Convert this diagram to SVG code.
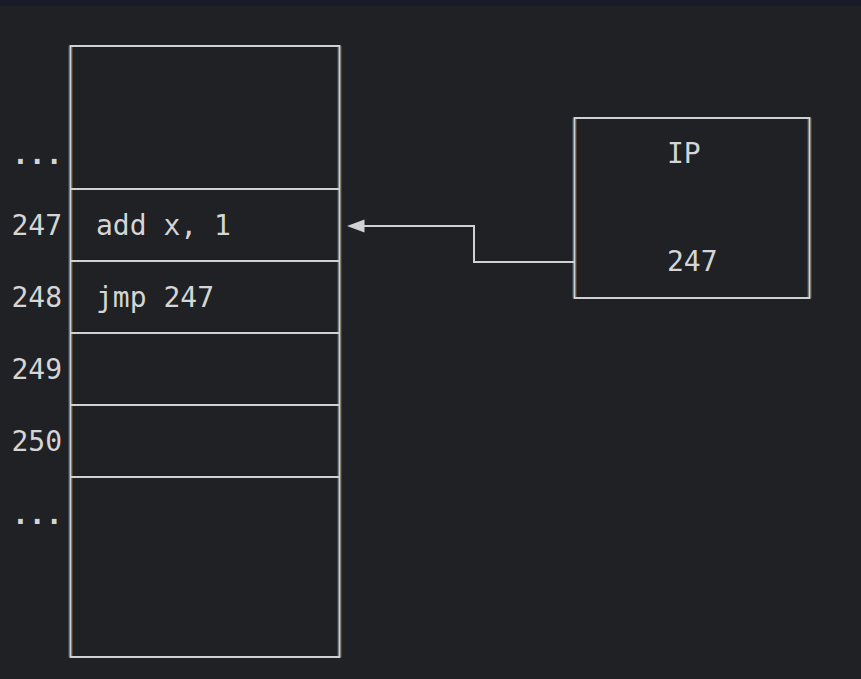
<svg xmlns="http://www.w3.org/2000/svg" width="861" height="679" viewBox="0 0 861 679">
  <style>
    .bg { fill: #202124; }
    .bar { fill: #181a27; }
    .box { fill: none; stroke: #cfd2d4; stroke-width: 2; }
    .rule { stroke: #cfd2d4; stroke-width: 2; fill: none; }
    .edgeL { stroke: #6f9fc4; stroke-width: 1; opacity: 0.55; }
    .edgeR { stroke: #c08a3c; stroke-width: 1; opacity: 0.6; }
    .t { font-family: "DejaVu Sans Mono", "Liberation Mono", monospace; font-size: 28px; fill: #d3d5d6; }
    .wire { fill: none; stroke: #cfd2d4; stroke-width: 2; }
    .head { fill: #cfd2d4; }
  </style>

  <rect class="bg" x="0" y="0" width="861" height="679"/>
  <rect class="bar" x="0" y="0" width="861" height="6"/>

  <!-- memory column -->
  <g id="memory">
    <rect class="box" x="70.5" y="46" width="269" height="611"/>
    <line class="edgeL" x1="69" y1="46" x2="69" y2="657"/>
    <line class="edgeR" x1="72" y1="47" x2="72" y2="656"/>
    <line class="edgeL" x1="338" y1="47" x2="338" y2="656"/>
    <line class="edgeR" x1="341" y1="46" x2="341" y2="657"/>
    <line class="rule" x1="71" y1="189" x2="339" y2="189"/>
    <line class="rule" x1="71" y1="261" x2="339" y2="261"/>
    <line class="rule" x1="71" y1="333" x2="339" y2="333"/>
    <line class="rule" x1="71" y1="405" x2="339" y2="405"/>
    <line class="rule" x1="71" y1="477" x2="339" y2="477"/>
    <text class="t" x="96" y="235">add x, 1</text>
    <text class="t" x="96" y="307">jmp 247</text>
  </g>

  <!-- address labels -->
  <g id="addresses">
    <text class="t" x="12" y="164" font-weight="bold">...</text>
    <text class="t" x="11.5" y="235">247</text>
    <text class="t" x="11.5" y="307">248</text>
    <text class="t" x="11.5" y="379">249</text>
    <text class="t" x="11.5" y="451">250</text>
    <text class="t" x="12" y="524" font-weight="bold">...</text>
  </g>

  <!-- instruction pointer register -->
  <g id="ip">
    <rect class="box" x="574.5" y="118" width="235" height="180"/>
    <line class="edgeL" x1="573" y1="118" x2="573" y2="298"/>
    <line class="edgeR" x1="576" y1="119" x2="576" y2="297"/>
    <line class="edgeL" x1="808" y1="119" x2="808" y2="297"/>
    <line class="edgeR" x1="811" y1="118" x2="811" y2="298"/>
    <text class="t" x="667" y="163">IP</text>
    <text class="t" x="667" y="271">247</text>
  </g>

  <!-- connectors -->
  <g id="connectors">
    <path class="wire" d="M574,262 H474 V226 H362"/>
    <path class="head" d="M347,226 L364.5,219.5 L364.5,232.5 Z"/>
  </g>
</svg>
